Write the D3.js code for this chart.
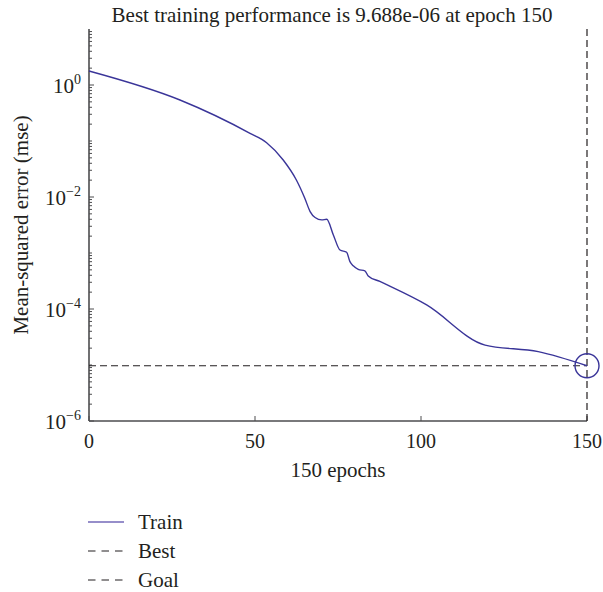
<!DOCTYPE html>
<html>
<head>
<meta charset="utf-8">
<script src="https://cdn.jsdelivr.net/npm/d3@7"></script>
<style>
  body { margin: 0; background: #fff; }
  text { font-family: "Liberation Serif", "DejaVu Serif", serif; fill: #231f20; }
</style>
</head>
<body>
<svg id="chart" width="603" height="592"></svg>
<script>
// training record
const epochs = [0, 27.4, 48.5, 53.5, 58.5, 62.5, 65, 66.6, 68.1, 70.1, 71.6, 73.6, 75.6, 77.6, 78.6, 79.6, 81.1, 83.1, 84.1, 87.6, 101.7, 119.3, 135.3, 150];
const trainMse = [1.78, 0.54, 0.137, 0.093, 0.0457, 0.0199, 0.0095, 0.0055, 0.0043, 0.0039, 0.0040, 0.0021, 0.00113, 0.00103, 7.0e-4, 5.9e-4, 5.1e-4, 4.8e-4, 3.9e-4, 3.1e-4, 1.18e-4, 2.27e-5, 1.73e-5, 9.688e-6];
const bestEpoch = 150;
const bestPerf = 9.688e-6;
const xTicks = [0, 50, 100, 150];
const yMajorExp = [0, -2, -4, -6];
const legendItems = ["Train", "Best", "Goal"];

const lineColor = "#3a3599";
const axisColor = "#4d4d4f";

const svg = d3.select("#chart");
const plotLeft = 89, plotRight = 587, plotTop = 29, plotBottom = 421;

const x = d3.scaleLinear().domain([0, 150]).range([plotLeft, plotRight]);
const y = d3.scaleLog().domain([1e-6, 10]).range([plotBottom, plotTop]);

// title
svg.append("text")
    .attr("x", 332)
    .attr("y", 22)
    .attr("text-anchor", "middle")
    .attr("font-size", 21)
    .text(`Best training performance is ${bestPerf.toExponential(3).replace("e-", "e-0")} at epoch ${bestEpoch}`);

// y axis with log minor ticks
const yAxisG = svg.append("g");
yAxisG.append("line")
    .attr("x1", plotLeft).attr("x2", plotLeft)
    .attr("y1", plotTop).attr("y2", plotBottom)
    .attr("stroke", axisColor).attr("stroke-width", 1.6);

const minorTicks = [];
for (let e = -6; e < 1; e++) {
    for (let m = 1; m < 10; m++) minorTicks.push(m * Math.pow(10, e));
}
yAxisG.selectAll(".ytick")
    .data(minorTicks)
    .join("line")
    .attr("class", "ytick")
    .attr("x1", plotLeft)
    .attr("x2", d => {
        const e = Math.round(Math.log10(d));
        const isDecade = Math.abs(Math.log10(d) - e) < 1e-9;
        return plotLeft + (isDecade && e % 2 === 0 ? 5 : 3);
    })
    .attr("y1", d => y(d)).attr("y2", d => y(d))
    .attr("stroke", axisColor).attr("stroke-width", 1);

const yLabels = yAxisG.selectAll(".ylab")
    .data(yMajorExp)
    .join("text")
    .attr("class", "ylab")
    .attr("x", 81)
    .attr("y", d => y(Math.pow(10, d)) + 8)
    .attr("text-anchor", "end")
    .attr("font-size", 21);
yLabels.append("tspan").text("10");
yLabels.append("tspan")
    .attr("dy", -9)
    .attr("font-size", 14)
    .text(d => d === 0 ? "0" : "\u2212" + Math.abs(d));

// x axis
const xAxisG = svg.append("g");
xAxisG.append("line")
    .attr("x1", plotLeft).attr("x2", plotRight)
    .attr("y1", plotBottom).attr("y2", plotBottom)
    .attr("stroke", axisColor).attr("stroke-width", 1.6);
xAxisG.selectAll(".xtick")
    .data(xTicks)
    .join("line")
    .attr("x1", d => x(d)).attr("x2", d => x(d))
    .attr("y1", plotBottom).attr("y2", plotBottom - 5)
    .attr("stroke", axisColor).attr("stroke-width", 1);
xAxisG.selectAll(".xlab")
    .data(xTicks)
    .join("text")
    .attr("x", d => x(d))
    .attr("y", 448)
    .attr("text-anchor", "middle")
    .attr("font-size", 20)
    .text(d => d);

svg.append("text")
    .attr("x", 338)
    .attr("y", 477)
    .attr("text-anchor", "middle")
    .attr("font-size", 21)
    .text(`${bestEpoch} epochs`);

svg.append("text")
    .attr("transform", `translate(28, ${(plotTop + plotBottom) / 2}) rotate(-90)`)
    .attr("text-anchor", "middle")
    .attr("font-size", 21)
    .text("Mean-squared error (mse)");

// best lines
svg.append("line")
    .attr("x1", plotLeft).attr("x2", x(bestEpoch))
    .attr("y1", y(bestPerf)).attr("y2", y(bestPerf))
    .attr("stroke", "#231f20").attr("stroke-width", 1.2)
    .attr("stroke-dasharray", "7,4");
svg.append("line")
    .attr("x1", x(bestEpoch)).attr("x2", x(bestEpoch))
    .attr("y1", plotTop).attr("y2", plotBottom)
    .attr("stroke", "#231f20").attr("stroke-width", 1.2)
    .attr("stroke-dasharray", "7,4");

// train curve
const line = d3.line()
    .x((d, i) => x(epochs[i]))
    .y(d => y(d))
    .curve(d3.curveMonotoneX);
svg.append("path")
    .datum(trainMse)
    .attr("d", line)
    .attr("fill", "none")
    .attr("stroke", lineColor)
    .attr("stroke-width", 1.4);

svg.append("circle")
    .attr("cx", x(bestEpoch))
    .attr("cy", y(bestPerf))
    .attr("r", 12)
    .attr("fill", "none")
    .attr("stroke", lineColor)
    .attr("stroke-width", 1.4);

// legend
const legend = svg.append("g").attr("transform", "translate(88, 522)");
legendItems.forEach((name, i) => {
    const row = legend.append("g").attr("transform", `translate(0, ${i * 29})`);
    row.append("line")
        .attr("x1", 0).attr("x2", 36)
        .attr("stroke", i === 0 ? "#7369b8" : "#231f20")
        .attr("stroke-width", i === 0 ? 1.6 : 1.2)
        .attr("stroke-dasharray", i === 0 ? null : "7.5,6");
    row.append("text")
        .attr("x", 50)
        .attr("y", 7)
        .attr("font-size", 21)
        .text(name);
});
</script>
</body>
</html>
